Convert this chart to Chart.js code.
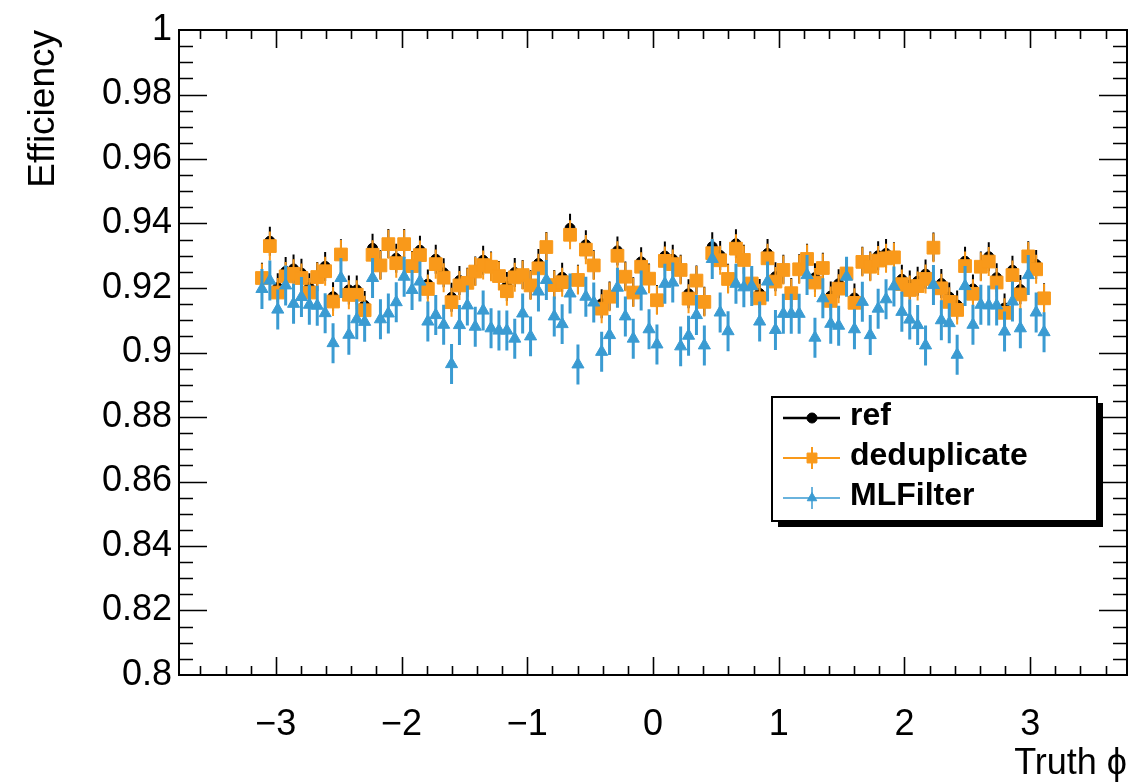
<!DOCTYPE html>
<html>
<head>
<meta charset="utf-8">
<title>Efficiency vs truth phi</title>
<script src="https://cdn.jsdelivr.net/npm/chart.js@4.4.1/dist/chart.umd.min.js"></script>
<style>
  html, body { margin: 0; padding: 0; background: #fff; }
</style>
</head>
<body>
<canvas id="effPhi" width="1137" height="782"></canvas>
<script>
// phi binning of the efficiency histograms
const nBins = 100;
const phiMin = -Math.PI;
const phiMax = Math.PI;

// per-bin efficiency for each selection
const effRef = [
  0.9233, 0.9345, 0.9201, 0.9251, 0.9259, 0.9246, 0.9201, 0.9236, 0.9267, 0.9173,
  0.9306, 0.9194, 0.9194, 0.9146, 0.9323, 0.9272, 0.9338, 0.9292, 0.9338, 0.9270,
  0.9317, 0.9212, 0.9289, 0.9247, 0.9171, 0.9223, 0.9218, 0.9253, 0.9286, 0.9268,
  0.9239, 0.9205, 0.9248, 0.9242, 0.9210, 0.9276, 0.9329, 0.9211, 0.9233, 0.9385,
  0.9227, 0.9334, 0.9272, 0.9151, 0.9175, 0.9315, 0.9237, 0.9188, 0.9281, 0.9231,
  0.9164, 0.9299, 0.9289, 0.9258, 0.9182, 0.9225, 0.9159, 0.9328, 0.9301, 0.9230,
  0.9337, 0.9289, 0.9216, 0.9183, 0.9307, 0.9235, 0.9258, 0.9186, 0.9260, 0.9292,
  0.9232, 0.9264, 0.9175, 0.9213, 0.9247, 0.9169, 0.9283, 0.9268, 0.9300, 0.9307,
  0.9297, 0.9227, 0.9209, 0.9221, 0.9243, 0.9327, 0.9214, 0.9172, 0.9147, 0.9283,
  0.9197, 0.9268, 0.9297, 0.9232, 0.9138, 0.9255, 0.9195, 0.9300, 0.9273, 0.9170
];
const effDedup = [
  0.9231, 0.9330, 0.9186, 0.9236, 0.9244, 0.9231, 0.9186, 0.9234, 0.9252, 0.9158,
  0.9304, 0.9179, 0.9179, 0.9131, 0.9303, 0.9270, 0.9336, 0.9277, 0.9336, 0.9268,
  0.9302, 0.9197, 0.9274, 0.9232, 0.9156, 0.9208, 0.9216, 0.9251, 0.9271, 0.9266,
  0.9237, 0.9190, 0.9233, 0.9240, 0.9208, 0.9261, 0.9327, 0.9209, 0.9218, 0.9365,
  0.9225, 0.9319, 0.9270, 0.9136, 0.9173, 0.9300, 0.9235, 0.9186, 0.9266, 0.9229,
  0.9162, 0.9284, 0.9274, 0.9256, 0.9167, 0.9223, 0.9157, 0.9308, 0.9286, 0.9228,
  0.9322, 0.9287, 0.9214, 0.9168, 0.9292, 0.9220, 0.9256, 0.9184, 0.9258, 0.9290,
  0.9217, 0.9262, 0.9160, 0.9198, 0.9245, 0.9154, 0.9281, 0.9266, 0.9285, 0.9292,
  0.9295, 0.9212, 0.9194, 0.9206, 0.9228, 0.9325, 0.9199, 0.9157, 0.9132, 0.9268,
  0.9182, 0.9266, 0.9282, 0.9217, 0.9123, 0.9240, 0.9180, 0.9298, 0.9258, 0.9168
];
const effMLFilter = [
  0.9197, 0.9223, 0.9133, 0.9208, 0.9151, 0.9172, 0.9148, 0.9145, 0.9122, 0.9029,
  0.9231, 0.9055, 0.9103, 0.9095, 0.9231, 0.9103, 0.9121, 0.9156, 0.9235, 0.9194,
  0.9220, 0.9096, 0.9116, 0.9086, 0.8964, 0.9085, 0.9146, 0.9080, 0.9130, 0.9075,
  0.9068, 0.9068, 0.9043, 0.9121, 0.9050, 0.9189, 0.9225, 0.9112, 0.9088, 0.9183,
  0.8963, 0.9173, 0.9155, 0.9002, 0.9054, 0.9201, 0.9112, 0.9043, 0.9192, 0.9072,
  0.9025, 0.9213, 0.9217, 0.9019, 0.9052, 0.9116, 0.9022, 0.9290, 0.9124, 0.9066,
  0.9213, 0.9202, 0.9206, 0.9096, 0.9220, 0.9070, 0.9120, 0.9120, 0.9120, 0.9240,
  0.9046, 0.9168, 0.9089, 0.9083, 0.9235, 0.9072, 0.9157, 0.9054, 0.9136, 0.9165,
  0.9205, 0.9126, 0.9102, 0.9085, 0.9022, 0.9209, 0.9100, 0.9091, 0.8993, 0.9206,
  0.9086, 0.9148, 0.9146, 0.9146, 0.9065, 0.9158, 0.9075, 0.9240, 0.9124, 0.9063
];

// statistical uncertainty per point
const errRef = 0.0045;
const errDedup = 0.0045;
const errMLFilter = 0.0062;

// axis ticks and labels
const xTickValues = [-3, -2, -1, 0, 1, 2, 3];
const xTickLabels = ['\u22123', '\u22122', '\u22121', '0', '1', '2', '3'];
const yTickValues = [0.8, 0.82, 0.84, 0.86, 0.88, 0.9, 0.92, 0.94, 0.96, 0.98, 1];
const yTickLabels = ['0.8', '0.82', '0.84', '0.86', '0.88', '0.9', '0.92', '0.94', '0.96', '0.98', '1'];

const FONT = "'Liberation Sans', Arial, Helvetica, sans-serif";
const ORANGE = '#f9991a';
const BLUE = '#3a9bd2';

const binWidth = (phiMax - phiMin) / nBins;
const binCenters = effRef.map((_, i) => phiMin + (i + 0.5) * binWidth);
// frame extends 10% of the phi range past each end
const xPad = 0.1 * (phiMax - phiMin);

function toPoints(values) {
    return values.map((v, i) => ({ x: binCenters[i], y: v }));
}

/**
 * Vertical error bars, drawn just before each dataset's markers
 */
const errorBars = {
    id: 'errorBars',
    beforeDatasetDraw(chart, args) {
        const ds = chart.data.datasets[args.index];
        const { ctx, scales: { x, y } } = chart;
        ctx.save();
        ctx.strokeStyle = ds.borderColor;
        ctx.lineWidth = ds.errorLineWidth;
        ctx.beginPath();
        ds.data.forEach(p => {
            const px = x.getPixelForValue(p.x);
            ctx.moveTo(px, y.getPixelForValue(p.y - ds.error));
            ctx.lineTo(px, y.getPixelForValue(p.y + ds.error));
        });
        ctx.stroke();
        ctx.restore();
    }
};

/**
 * Box frame with inward ticks on all four sides
 */
const tickFrame = {
    id: 'tickFrame',
    afterDatasetsDraw(chart) {
        const { ctx, chartArea: a, scales: { x, y } } = chart;
        ctx.save();
        ctx.strokeStyle = '#000';
        ctx.lineWidth = 1.6;
        ctx.beginPath();
        for (let k = -18; k <= 18; k++) {
            const v = k * 0.2;
            const px = Math.round(x.getPixelForValue(v)) + 0.5;
            const len = k % 5 === 0 ? 18 : 9;
            ctx.moveTo(px, a.bottom); ctx.lineTo(px, a.bottom - len);
            ctx.moveTo(px, a.top); ctx.lineTo(px, a.top + len);
        }
        for (let k = 161; k < 200; k++) {
            const v = k * 0.005;
            const py = Math.round(y.getPixelForValue(v)) + 0.5;
            const len = k % 4 === 0 ? 28 : 14;
            ctx.moveTo(a.left, py); ctx.lineTo(a.left + len, py);
            ctx.moveTo(a.right, py); ctx.lineTo(a.right - len, py);
        }
        ctx.stroke();
        ctx.lineWidth = 2;
        ctx.strokeRect(a.left, a.top, a.right - a.left, a.bottom - a.top);
        ctx.restore();
    }
};

/**
 * Legend box with drop shadow
 */
const shadowLegend = {
    id: 'shadowLegend',
    afterDraw(chart) {
        const ctx = chart.ctx;
        const x0 = 772, y0 = 397, w = 325, h = 124, shadow = 6;
        ctx.save();
        ctx.fillStyle = '#000';
        ctx.fillRect(x0 + shadow, y0 + shadow, w, h);
        ctx.fillStyle = '#fff';
        ctx.fillRect(x0, y0, w, h);
        ctx.strokeStyle = '#000';
        ctx.lineWidth = 2;
        ctx.strokeRect(x0, y0, w, h);

        chart.data.datasets.forEach((ds, i) => {
            const cy = y0 + 21 + i * 40;
            const mx = x0 + 40;
            ctx.strokeStyle = ds.borderColor;
            ctx.lineWidth = ds.legendLineWidth;
            ctx.beginPath();
            ctx.moveTo(x0 + 11, cy);
            ctx.lineTo(x0 + 68, cy);
            if (ds.legendBar) {
                ctx.moveTo(mx, cy - 11);
                ctx.lineTo(mx, cy + 11);
            }
            ctx.stroke();
            ctx.fillStyle = ds.backgroundColor;
            ctx.lineWidth = 1;
            Chart.helpers.drawPoint(ctx, {
                pointStyle: ds.pointStyle,
                radius: ds.legendRadius,
                borderWidth: 1
            }, mx, cy);

            ctx.fillStyle = '#000';
            ctx.font = 'bold 32px ' + FONT;
            ctx.textAlign = 'left';
            ctx.textBaseline = 'middle';
            ctx.fillText(ds.label, x0 + 78, cy - 1.5);
        });
        ctx.restore();
    }
};

const config = {
    type: 'scatter',
    data: {
        datasets: [{
            label: 'ref',
            data: toPoints(effRef),
            error: errRef,
            errorLineWidth: 2,
            pointStyle: 'circle',
            pointRadius: 5,
            backgroundColor: '#000',
            borderColor: '#000',
            borderWidth: 1,
            legendLineWidth: 2.5,
            legendRadius: 5,
            legendBar: false,
            order: 3
        }, {
            label: 'deduplicate',
            data: toPoints(effDedup),
            error: errDedup,
            errorLineWidth: 2,
            pointStyle: 'rect',
            pointRadius: 9,
            backgroundColor: ORANGE,
            borderColor: ORANGE,
            borderWidth: 1,
            legendLineWidth: 2,
            legendRadius: 7,
            legendBar: true,
            order: 2
        }, {
            label: 'MLFilter',
            data: toPoints(effMLFilter),
            error: errMLFilter,
            errorLineWidth: 3,
            pointStyle: 'triangle',
            pointRadius: 7,
            backgroundColor: BLUE,
            borderColor: BLUE,
            borderWidth: 1,
            legendLineWidth: 1.5,
            legendRadius: 5.5,
            legendBar: true,
            order: 1
        }]
    },
    options: {
        responsive: false,
        animation: false,
        devicePixelRatio: 1,
        events: [],
        layout: {
            padding: { top: 30, right: 7, left: 0, bottom: 0 }
        },
        plugins: {
            legend: { display: false },
            tooltip: { enabled: false }
        },
        scales: {
            x: {
                type: 'linear',
                min: phiMin - xPad,
                max: phiMax + xPad,
                afterBuildTicks: scale => {
                    scale.ticks = xTickValues.map(v => ({ value: v }));
                },
                afterFit: scale => { scale.height = 107; },
                ticks: {
                    autoSkip: false,
                    maxRotation: 0,
                    padding: 28,
                    color: '#000',
                    font: { family: FONT, size: 36 },
                    callback: (value, index) => xTickLabels[index]
                },
                grid: { display: false, drawTicks: false },
                border: { display: false },
                title: {
                    display: true,
                    text: 'Truth \u03d5',
                    align: 'end',
                    color: '#000',
                    font: { family: FONT, size: 36, lineHeight: 1 },
                    padding: { top: 0, bottom: 0 }
                }
            },
            y: {
                type: 'linear',
                min: 0.8,
                max: 1,
                afterBuildTicks: scale => {
                    scale.ticks = yTickValues.map(v => ({ value: v }));
                },
                afterFit: scale => { scale.width = 179; },
                ticks: {
                    autoSkip: false,
                    padding: 7,
                    color: '#000',
                    font: { family: FONT, size: 36 },
                    callback: (value, index) => yTickLabels[index]
                },
                grid: { display: false, drawTicks: false },
                border: { display: false },
                title: {
                    display: true,
                    text: 'Efficiency',
                    align: 'end',
                    color: '#000',
                    font: { family: FONT, size: 37, lineHeight: 1 },
                    padding: { top: 25, bottom: 0 }
                }
            }
        }
    },
    plugins: [errorBars, tickFrame, shadowLegend]
};

const ctx = document.getElementById('effPhi').getContext('2d');
new Chart(ctx, config);
</script>
</body>
</html>
